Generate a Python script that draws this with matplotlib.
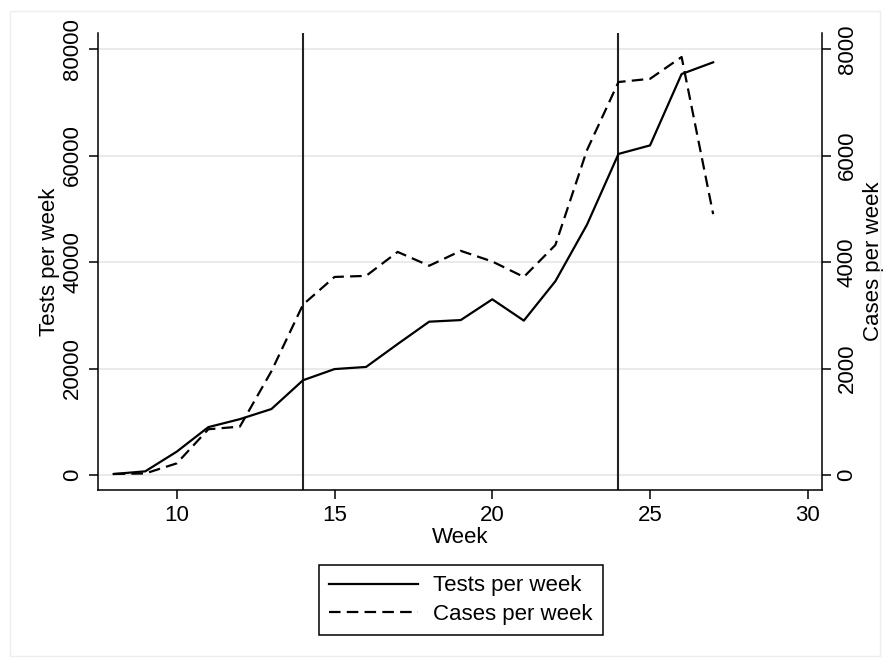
import matplotlib.pyplot as plt
from matplotlib.patches import Rectangle

plt.rcParams['font.family'] = ['Liberation Sans', 'DejaVu Sans']

# Données
weeks = [8, 9, 10, 11, 12, 13, 14, 15, 16, 17, 18, 19, 20, 21, 22, 23, 24, 25, 26, 27]
tests = [200, 700, 4400, 9000, 10500, 12400, 17800, 19900, 20300, 24600, 28800, 29100,
         33000, 29000, 36400, 47000, 60300, 61900, 75300, 77500]
cases = [20, 30, 220, 860, 910, 1950, 3200, 3720, 3740, 4190, 3930, 4210,
         4010, 3720, 4320, 6100, 7380, 7440, 7850, 4900]
vlines = [14, 24]
left_ticks = [0, 20000, 40000, 60000, 80000]
right_ticks = [0, 2000, 4000, 6000, 8000]
x_ticks = [10, 15, 20, 25, 30]

FS = 16

fig = plt.figure(figsize=(8.9, 6.67), dpi=100)
ax = fig.add_axes([0.110, 0.2654, 0.8136, 0.6851])
ax2 = ax.twinx()

# grille horizontale
for t in left_ticks:
    ax.axhline(t, color='#e6e6e6', lw=1.2, zorder=0)

l1, = ax.plot(weeks, tests, color='black', lw=1.6, label='Tests per week', zorder=3)
l2, = ax2.plot(weeks, cases, color='black', lw=1.6, ls=(0, (5.2, 2.8)), label='Cases per week', zorder=3)
for v in vlines:
    ax.axvline(v, color='#222222', lw=1.5, zorder=2)

ax.set_xlim(7.5, 30.45)
ax.set_ylim(-2800, 83000)
ax2.set_ylim(-280, 8300)

ax.set_xticks(x_ticks)
ax.set_yticks(left_ticks)
ax2.set_yticks(right_ticks)
ax.set_yticklabels([str(t) for t in left_ticks], rotation=90, va='center')
ax2.set_yticklabels([str(t) for t in right_ticks], rotation=90, va='center')

for a in (ax, ax2):
    a.spines['top'].set_visible(False)
    a.tick_params(labelsize=FS, length=6.5, width=1.1, direction='out', pad=4)
ax.spines['right'].set_visible(False)
ax2.spines['left'].set_visible(False)
ax2.spines['bottom'].set_visible(False)
ax.spines['left'].set_linewidth(1.1)
ax.spines['bottom'].set_linewidth(1.1)
ax2.spines['right'].set_linewidth(1.1)

ax.set_xlabel('Week', fontsize=FS, labelpad=1)
ax.set_ylabel('Tests per week', fontsize=FS, labelpad=2)
ax2.set_ylabel('Cases per week', fontsize=FS, labelpad=4)

leg = fig.legend(handles=[l1, l2], loc='center', bbox_to_anchor=(0.518, 0.1), fontsize=FS,
                 handlelength=4.0, fancybox=False, edgecolor='black', framealpha=1,
                 borderpad=0.45, labelspacing=0.35, handletextpad=0.7)
leg.get_frame().set_linewidth(1.1)

# cadre léger autour de la zone graphique
fig.patches.append(Rectangle((0.011, 0.017), 0.978, 0.966, transform=fig.transFigure,
                             fill=False, edgecolor='#eeeeee', lw=1))

fig.savefig('out.png', dpi=100)
